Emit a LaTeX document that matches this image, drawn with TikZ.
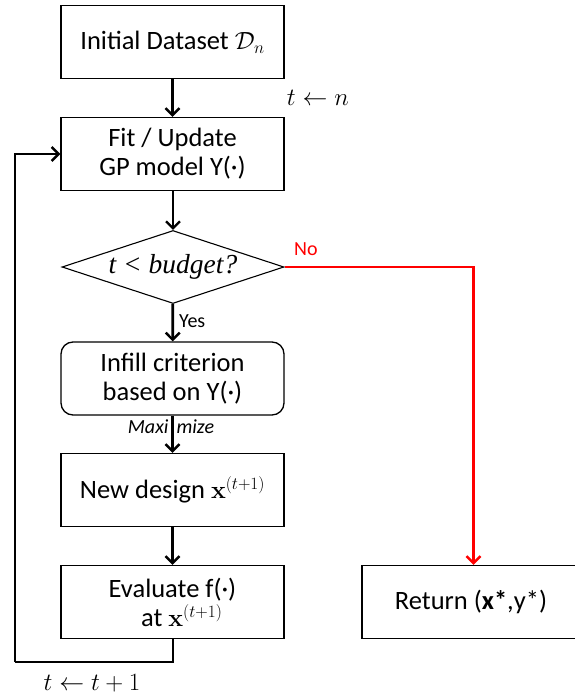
\documentclass[tikz,border=0pt]{standalone}
\usepackage[no-math]{fontspec}
\setmainfont{Carlito}
\newfontfamily\condserif{Liberation Serif}
\usetikzlibrary{arrows.meta,shapes.geometric}

\tikzset{
  stepbox/.style={draw, line width=1.3pt, minimum width=223pt, minimum height=73pt,
    inner sep=0pt, align=center, font=\fontsize{26.5}{29}\selectfont},
  roundbox/.style={stepbox, rounded corners=12pt},
  testbox/.style={draw, line width=1.1pt, diamond, aspect=3, inner sep=0pt,
    minimum width=222pt, minimum height=73pt, font=\fontsize{27.5}{29}\selectfont},
  flow/.style={line width=2.8pt, -{Straight Barb[length=7pt,width=14pt,line width=2.4pt]}},
  nopath/.style={flow, red},
  smalllabel/.style={font=\fontsize{20}{22}\selectfont, inner sep=1pt},
  mathlabel/.style={font=\fontsize{26}{29}\selectfont, inner sep=0pt}
}

\begin{document}
\begin{tikzpicture}[x=1pt,y=-1pt]
\useasboundingbox (0,0) rectangle (574,698);

% main column
\node[stepbox] (init) at (172.5,42) {Initial Dataset $\mathcal{D}_n$};
\node[stepbox] (fit)  at (172.5,154) {Fit / Update\\GP model Y(·)};
\node[testbox] (test) at (173,267) {\condserif\itshape t < budget?};
\node[roundbox] (infill) at (172.5,378.5) {Infill criterion\\based on Y(·)};
\node[stepbox] (design) at (172.5,490) {New design $\mathbf{x}^{(t+1)}$};
\node[stepbox] (eval) at (172.5,602) {Evaluate f(·)\\\hspace{0.7em}at $\mathbf{x}^{(t+1)}$};
\node[stepbox] (ret) at (473.5,602) {\hspace*{-5pt}Return (\textbf{x*},y*)};

% loop corners
\coordinate (loopR) at (173,662);
\coordinate (loopL) at (15,662);

% connectors
\draw[flow] (init) -- (fit);
\draw[flow] (fit.south -| test.north) -- (test.north);
\draw[flow] (test) -- (infill);
\draw[flow] (infill) -- (design);
\draw[flow] (design) -- (eval);
\draw[line width=2.8pt] (eval.south -| loopR) -- (loopR) -- (loopL);
\draw[flow] (loopL) |- (fit.west);
\draw[nopath] (test.east) -| (ret.north);

% labels
\node[mathlabel] (tn) at (318,98) {$t \leftarrow n$};
\node[mathlabel] (tinc) at (92,683) {$t \leftarrow t+1$};
\node[smalllabel, anchor=west] (yes) at (178,321) {Yes};
\node[smalllabel, anchor=west, red] (no) at (293,249) {No};
\node[smalllabel, font=\itshape\fontsize{20}{22}\selectfont, inner sep=0pt] (maxl) at (171,427) {Maxi\hspace{8pt}mize};
\end{tikzpicture}
\end{document}
